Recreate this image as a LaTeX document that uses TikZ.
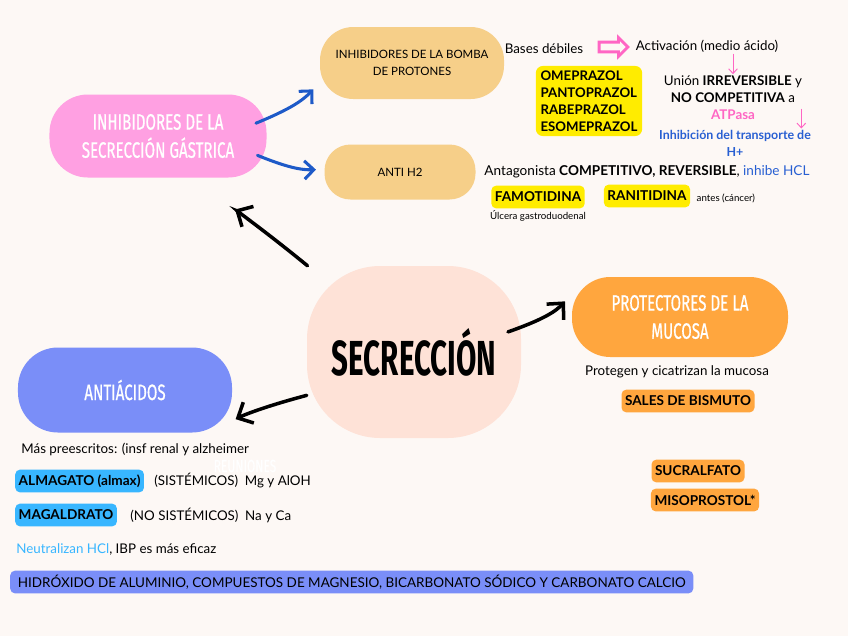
\documentclass[tikz,border=0pt]{standalone}
\usepackage{fontspec}
\setmainfont{Lato}
\newfontfamily\headfont[FakeStretch=0.68, FakeBold=0.6]{Fira Sans}
\newfontfamily\bigfont[FakeStretch=0.6]{Fira Sans}
\usetikzlibrary{positioning,arrows.meta,calc,shapes.arrows}
\definecolor{bgcream}{RGB}{253,248,245}
\definecolor{peach}{RGB}{254,226,215}
\definecolor{blobpink}{RGB}{255,160,226}
\definecolor{blobtan}{RGB}{246,207,137}
\definecolor{periwink}{RGB}{122,142,248}
\definecolor{mango}{RGB}{255,166,62}
\definecolor{arrowblue}{RGB}{30,90,200}
\definecolor{skyblue}{RGB}{56,182,255}
\definecolor{lemon}{RGB}{255,236,0}
\definecolor{hotpink}{RGB}{255,102,196}
\definecolor{inkblue}{RGB}{40,95,210}
\tikzset{
  blob/.style={inner sep=0pt, align=center},
  head/.style={font=\headfont\fontsize{19}{24}\selectfont, text=white},
  plain/.style={font=\fontsize{11.4}{13}\selectfont, inner sep=1pt, align=center},
  tiny/.style={font=\fontsize{8.3}{9}\selectfont, inner sep=1pt},
  tag/.style={rounded corners=4pt, font=\bfseries\fontsize{11.6}{13}\selectfont, inner sep=3pt, minimum height=0.68cm},
  bigarrow/.style={-{Straight Barb[length=3.6mm,width=7mm]}, line width=3pt, line cap=round},
  bluearrow/.style={-{Straight Barb[length=2.8mm,width=5.5mm]}, line width=2.6pt, line cap=round, arrowblue},
  pinkarr/.style={-{Straight Barb[length=1.4mm,width=2.6mm]}, line width=0.8pt, hotpink}
}
\begin{document}
\begin{tikzpicture}[x=0.03cm, y=-0.03cm]
  \fill[bgcream] (0,0) rectangle (848,636);
  \useasboundingbox (0,0) rectangle (848,636);
  % central topic and the four branches
  \node[blob, fill=peach, minimum width=6.42cm, minimum height=5.16cm, rounded corners=2.2cm, font=\bigfont\bfseries\fontsize{42}{42}\selectfont] (sec) at (414,352) {SECRECCIÓN};
  \node[blob, head, fill=blobpink, minimum width=6.51cm, minimum height=2.49cm, rounded corners=1.15cm] (gast) at (158,136) {INHIBIDORES DE LA\\SECRECCIÓN GÁSTRICA};
  \node[blob, fill=blobtan, minimum width=5.52cm, minimum height=2.16cm, rounded corners=1cm, font=\fontsize{9.8}{15}\selectfont] (ibp) at (412,63) {INHIBIDORES DE LA BOMBA\\DE PROTONES};
  \node[blob, fill=blobtan, minimum width=4.53cm, minimum height=1.65cm, rounded corners=0.78cm, font=\fontsize{9.8}{11}\selectfont] (h2) at (400,172) {ANTI H2};
  \node[blob, head, fill=periwink, minimum width=6.42cm, minimum height=2.55cm, rounded corners=1.2cm] (anti) at (125,390) {ANTIÁCIDOS};
  \node[blob, head, fill=mango, minimum width=6.48cm, minimum height=2.4cm, rounded corners=1.15cm] (prot) at (680,317) {PROTECTORES DE LA\\MUCOSA};
  \draw[bigarrow, shorten >=1.95cm] (sec.141) to[bend right=5] (gast.-64);
  \draw[bigarrow, shorten >=0.9cm] (sec.202) to[bend right=6] (anti.-27);
  \draw[bigarrow, shorten <=-0.42cm, shorten >=0.3cm] (sec.13) to[bend right=14] (prot.168);
  \draw[bluearrow, shorten <=-0.35cm, shorten >=0.28cm] (gast.9) to[bend right=12] (ibp.192);
  \draw[bluearrow, shorten <=-0.3cm, shorten >=0.25cm] (gast.-12) to[bend right=12] (h2.178);

  % IBP
  \node[plain] (bases) at (544,49) {Bases débiles};
  \node[single arrow, draw=hotpink, line width=2.4pt, minimum height=0.86cm, minimum width=0.56cm, single arrow head extend=0.07cm, inner sep=1pt] (barr) at (611,47) {};
  \node[plain] (act) at (707,46) {Activación (medio ácido)};
  \node[plain, font=\fontsize{11.4}{14.5}\selectfont] (union) at (733,89) {Unión \textbf{IRREVERSIBLE} y\\\textbf{NO COMPETITIVA} a};
  \node[plain, font=\bfseries\fontsize{11.4}{13}\selectfont, text=hotpink] (atp) at (733,115) {ATPasa};
  \node[plain, font=\bfseries\fontsize{10.6}{14.5}\selectfont, text=inkblue] (inh) at (735,143) {Inhibición del transporte de\\H+};
  \draw[pinkarr] (union.north |- act.south) -- (union.north);
  \draw[pinkarr] ([xshift=1.35cm]atp.north east) -- ([xshift=1.35cm]atp.north east |- inh.north);
  \node[tag, fill=lemon, align=left, rounded corners=6pt, font=\bfseries\fontsize{11.3}{14.5}\selectfont, inner sep=4pt] (prazol) at (589,101) {OMEPRAZOL\\PANTOPRAZOL\\RABEPRAZOL\\ESOMEPRAZOL};

  % anti H2
  \node[plain, font=\fontsize{11.6}{13}\selectfont] (antag) at (647,172) {Antagonista \textbf{COMPETITIVO, REVERSIBLE}, \textcolor{inkblue}{inhibe HCL}};
  \node[tag, fill=lemon] (famo) at (538,197) {FAMOTIDINA};
  \node[tiny, below=0.02cm of famo] (ulc) {Úlcera gastroduodenal};
  \node[tag, fill=lemon] (rani) at (647,196) {RANITIDINA};
  \node[tiny, right=0.15cm of rani, yshift=-2pt] (antes) {antes (cáncer)};

  % protectores
  \node[plain] (protg) at (677,372) {Protegen y cicatrizan la mucosa};
  \node[tag, fill=mango] (sales) at (688,401) {SALES DE BISMUTO};
  \node[tag, fill=mango] (sucral) at (698,471) {SUCRALFATO};
  \node[tag, fill=mango] (miso) at (705,500) {MISOPROSTOL*};

  % antiacidos
  \node[plain, anchor=west] (mas) at (20,449) {Más preescritos: (insf renal y alzheimer};
  \node[head, text=white, font=\headfont\fontsize{15}{16}\selectfont] (reun) at (245,466) {REUNIONES};
  \node[tag, fill=skyblue, anchor=west] (alma) at (15,481) {ALMAGATO (almax)};
  \node[plain, anchor=west] (sist) at (153,481) {(SISTÉMICOS)\enspace Mg y AlOH};
  \node[tag, fill=skyblue, anchor=west] (maga) at (15,515) {MAGALDRATO};
  \node[plain, anchor=west] (nosist) at (129,515) {(NO SISTÉMICOS)\enspace Na y Ca};
  \node[plain, anchor=west] (neut) at (15,549) {\textcolor{skyblue}{Neutralizan HCl}, IBP es más eficaz};
  \node[tag, fill=periwink, anchor=west, minimum width=20.49cm, font=\fontsize{11.5}{12}\selectfont] (bar) at (10,582) {HIDRÓXIDO DE ALUMINIO, COMPUESTOS DE MAGNESIO, BICARBONATO SÓDICO Y CARBONATO CALCIO};
\end{tikzpicture}
\end{document}
